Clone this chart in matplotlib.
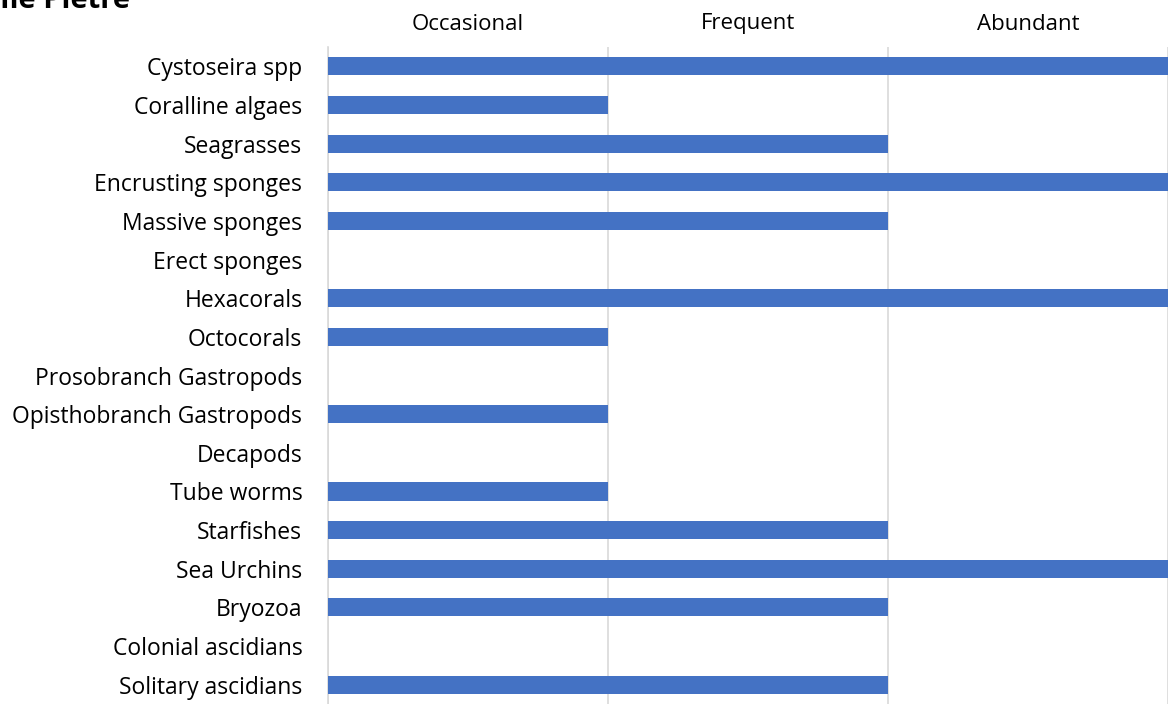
import matplotlib
matplotlib.use("Agg")
import matplotlib.pyplot as plt

# data (0 = none, 1 = occasional, 2 = frequent, 3 = abundant)
species = ["Cystoseira spp", "Coralline algaes", "Seagrasses", "Encrusting sponges",
           "Massive sponges", "Erect sponges", "Hexacorals", "Octocorals",
           "Prosobranch Gastropods", "Opisthobranch Gastropods", "Decapods",
           "Tube worms", "Starfishes", "Sea Urchins", "Bryozoa",
           "Colonial ascidians", "Solitary ascidians"]
abundance = [3, 1, 2, 3, 2, 0, 3, 1, 0, 1, 0, 1, 2, 3, 2, 0, 2]
levels = ["Occasional", "Frequent", "Abundant"]
title = "Ile Pietre"

plt.rcParams['font.family'] = ['Open Sans', 'DejaVu Sans']

W, H = 1168, 704
fig = plt.figure(figsize=(W / 100, H / 100), dpi=100)
ax = fig.add_axes([328 / W, 0, 840 / W, (H - 47) / H])

ypos = list(range(len(species)))
ax.barh(ypos, abundance, height=0.47, color="#4472C4", zorder=3)

ax.set_ylim(len(species) - 0.5, -0.5)
ax.set_xlim(0, len(levels))
ax.set_yticks(ypos)
ax.set_yticklabels(species, fontsize=16.5, color="#000000")
ax.tick_params(axis="y", length=0, pad=18.5)

# gridlines on the level boundaries, level names centred between them on top
ax.set_xticks(range(len(levels) + 1))
ax.set_xticklabels([])
ax.set_xticks([i + 0.5 for i in range(len(levels))], minor=True)
ax.set_xticklabels(levels, minor=True, fontsize=16)
ax.xaxis.tick_top()
ax.tick_params(axis="x", which="both", length=0, pad=9)
ax.grid(axis="x", which="major", color="#d9d9d9", linewidth=1.2, zorder=0)

for s in ["top", "right", "bottom"]:
    ax.spines[s].set_visible(False)
ax.spines["left"].set_color("#d9d9d9")
ax.spines["left"].set_linewidth(1.2)

# title sits partly off the top edge, as in the reference
fig.text(130 / W, 1 - 8 / H, title, fontsize=21, fontweight="bold",
         ha="right", va="baseline")

fig.savefig("out.png", dpi=100)
